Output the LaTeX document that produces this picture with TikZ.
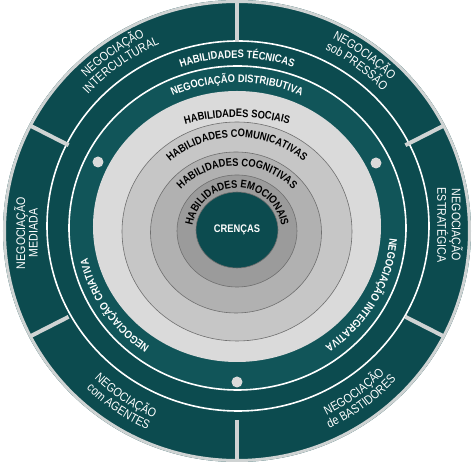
\documentclass[tikz,border=0pt]{standalone}
\usepackage{fontspec}
\setmainfont{Liberation Sans}
\newfontfamily\condfont[FakeStretch=0.85]{Liberation Sans}
\usetikzlibrary{decorations.text}

\definecolor{petrol}{HTML}{0C4B4F}
\definecolor{petrolb}{HTML}{115559}
\definecolor{rimgray}{HTML}{CFD3D3}
\definecolor{grayA}{HTML}{DADADA}
\definecolor{grayB}{HTML}{C6C6C6}
\definecolor{grayC}{HTML}{B1B1B1}
\definecolor{grayD}{HTML}{9B9B9B}
\definecolor{lineg}{HTML}{6F6F6F}

\newcommand\inbf{\condfont\bfseries\fontsize{11}{13}\selectfont}
\newcommand\outtx{\condfont\fontsize{12.5}{12.5}\selectfont}

\begin{document}
\begin{tikzpicture}[x=1pt,y=1pt,
  arctext/.style={decorate,decoration={text along path,text align=center,text={#1}}},
  sidelabel/.style={white,align=center,font=\outtx,inner sep=0pt}]

\useasboundingbox (-237,-231) rectangle (237,231);

\fill[petrol] (0,0) ellipse [x radius=234,y radius=231];
\draw[rimgray,line width=3] (0,0) ellipse [x radius=232.5,y radius=229.5];
\fill[petrolb] (0.5,3) ellipse [x radius=168.5,y radius=162];
\draw[white,line width=1.6] (1,5) ellipse [x radius=191,y radius=185];
\draw[white,line width=1.6] (0.5,3) ellipse [x radius=168.5,y radius=162];
\begin{scope}
  \clip (0,0) ellipse [x radius=233,y radius=230];
  \foreach \a in {90,27,-27,-90,-153,153}
    \draw[rimgray,line width=4] (\a:189) -- (\a:240);
\end{scope}

\fill[grayA] (0,4.5) ellipse [x radius=144,y radius=135.5];
\filldraw[fill=grayB,draw=lineg,line width=0.6] (0,-0.5) ellipse [x radius=115,y radius=109.5];
\filldraw[fill=grayC,draw=lineg,line width=0.6] (-1,-1.5) ellipse [x radius=85.5,y radius=80.5];
\filldraw[fill=grayD,draw=lineg,line width=0.6] (0,0) ellipse [x radius=60,y radius=56];
\filldraw[fill=petrol,draw=lineg,line width=0.6] (0,1) ellipse [x radius=41,y radius=38];

\foreach \p in {(-139,69),(139,68),(0,-151)}
  \fill[grayA] \p circle[radius=5.5];

\path[arctext={|\inbf\color{white}|HABILIDADES TÉCNICAS}] (150:173) arc[start angle=150,end angle=30,radius=173];
\path[arctext={|\inbf\color{white}|NEGOCIAÇÃO DISTRIBUTIVA}] (0,3.5) ++(150:153 and 145) arc[start angle=150,end angle=30,x radius=153,y radius=145];
\path[arctext={|\inbf\color{white}|NEGOCIAÇÃO INTEGRATIVA}] (0,3.5) ++(23:153 and 145) arc[start angle=23,end angle=-81,x radius=153,y radius=145];
\path[arctext={|\inbf\color{white}|NEGOCIAÇÃO CRIATIVA}] (0,3.5) ++(264:153 and 145) arc[start angle=264,end angle=162,x radius=153,y radius=145];

\path[arctext={|\inbf|HABILIDADES SOCIAIS}] (0,-80) ++(120:194) arc[start angle=120,end angle=60,radius=194];
\path[arctext={|\inbf|HABILIDADES COMUNICATIVAS}] (0,-8) ++(160:102) arc[start angle=160,end angle=20,radius=102];
\path[arctext={|\inbf|HABILIDADES COGNITIVAS}] (0,-14) ++(170:79) arc[start angle=170,end angle=10,radius=79];
\path[arctext={|\inbf|HABILIDADES EMOCIONAIS}] (0,-2) ++(210:45) arc[start angle=210,end angle=-30,radius=45];
\node[white,font=\inbf] (crencas) at (0,1) {CRENÇAS};

\path[arctext={|\outtx\color{white}|NEGOCIAÇÃO}] (155:215) arc[start angle=155,end angle=95,radius=215];
\path[arctext={|\outtx\color{white}|INTERCULTURAL}] (155:202) arc[start angle=155,end angle=95,radius=202];
\path[arctext={|\outtx\color{white}|NEGOCIAÇÃO}] (84:215) arc[start angle=84,end angle=24,radius=215];
\path[arctext={|\outtx\color{white}|sob PRESSÃO}] (84:202) arc[start angle=84,end angle=24,radius=202];
\path[arctext={|\outtx\color{white}|NEGOCIAÇÃO}] (206:205) arc[start angle=206,end angle=266,radius=205];
\path[arctext={|\outtx\color{white}|com AGENTES}] (206:218) arc[start angle=206,end angle=266,radius=218];
\path[arctext={|\outtx\color{white}|NEGOCIAÇÃO}] (-84:205) arc[start angle=-84,end angle=-24,radius=205];
\path[arctext={|\outtx\color{white}|de BASTIDORES}] (-84:218) arc[start angle=-84,end angle=-24,radius=218];

\node[sidelabel,rotate=-90] (estrategica) at (213,6) {NEGOCIAÇÃO\\ESTRATÉGICA};
\node[sidelabel,rotate=90] (mediada) at (-211,-2) {NEGOCIAÇÃO\\MEDIADA};
\end{tikzpicture}
\end{document}
